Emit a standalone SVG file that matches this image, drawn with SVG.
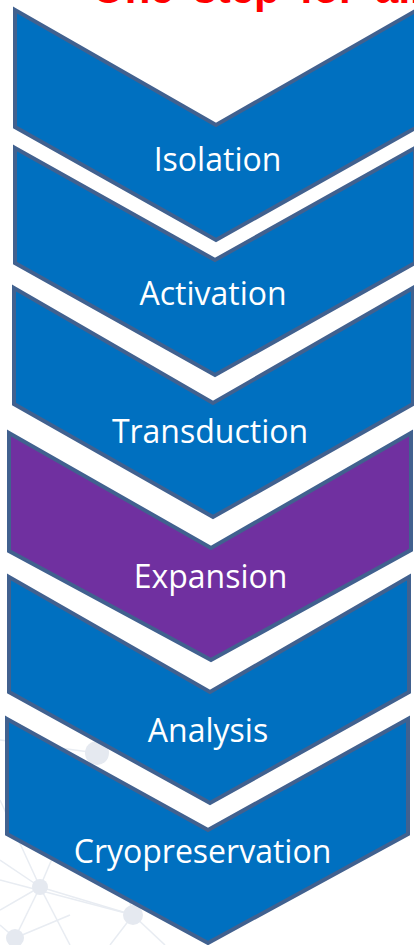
<svg xmlns="http://www.w3.org/2000/svg" width="414" height="945" viewBox="0 0 414 945">
<style>
.bgl{stroke:#E8ECF2;stroke-width:1.5;fill:none}
.bgc{fill:#E5E9F0}
.chev{stroke:#41618F;stroke-width:4;stroke-linejoin:miter}
.blue{fill:#0070C0}
.purple{fill:#7030A0}
.lbl{font-family:"Open Sans","Liberation Sans",sans-serif;font-size:32px;fill:#FFFFFF;text-anchor:middle}
.title{font-family:"Liberation Sans",Arial,sans-serif;font-size:42px;font-weight:bold;fill:#FF0000;word-spacing:8px}
</style>
<rect width="414" height="945" fill="#FFFFFF"/>
<g id="background">
<line class="bgl" x1="0" y1="740" x2="97" y2="753"/>
<line class="bgl" x1="97" y1="753" x2="40" y2="887"/>
<line class="bgl" x1="0" y1="800" x2="40" y2="887"/>
<line class="bgl" x1="0" y1="860" x2="40" y2="887"/>
<line class="bgl" x1="40" y1="887" x2="15" y2="938"/>
<line class="bgl" x1="40" y1="887" x2="133" y2="915"/>
<line class="bgl" x1="40" y1="887" x2="0" y2="910"/>
<line class="bgl" x1="40" y1="887" x2="70" y2="945"/>
<line class="bgl" x1="133" y1="915" x2="110" y2="945"/>
<line class="bgl" x1="133" y1="915" x2="165" y2="945"/>
<line class="bgl" x1="133" y1="915" x2="120" y2="860"/>
<line class="bgl" x1="15" y1="938" x2="0" y2="925"/>
<line class="bgl" x1="15" y1="938" x2="70" y2="915"/>
<line class="bgl" x1="0" y1="880" x2="133" y2="915"/>
<circle class="bgc" cx="97" cy="753" r="12"/>
<circle class="bgc" cx="40" cy="887" r="8"/>
<circle class="bgc" cx="133" cy="915" r="10"/>
<circle class="bgc" cx="15" cy="938" r="9"/>
</g>
<text class="title" x="92" y="3">One step for all</text>
<g id="isolation">
<polygon class="chev blue" points="15,10 216,125 417,10 417,127 216,240 15,127"/>
<text class="lbl" x="217.5" y="171">Isolation</text>
</g>
<g id="activation">
<polygon class="chev blue" points="15,148 215,260 415,148 415,263 215,375 15,263"/>
<text class="lbl" x="213" y="305">Activation</text>
</g>
<g id="transduction">
<polygon class="chev blue" points="14,288 213,403 413,288 413,404 213,517 14,404"/>
<text class="lbl" x="210" y="443">Transduction</text>
</g>
<g id="expansion">
<polygon class="chev purple" points="9,433 211,548 411,433 411,550 211,660 9,551"/>
<text class="lbl" x="210.5" y="588">Expansion</text>
</g>
<g id="analysis">
<polygon class="chev blue" points="9,577 210,692 409,577 409,692 210,803 9,692"/>
<text class="lbl" x="208" y="742">Analysis</text>
</g>
<g id="cryopreservation">
<polygon class="chev blue" points="7,719 208,830 408,719 408,834 208,943 7,834"/>
<text class="lbl" x="202.5" y="863">Cryopreservation</text>
</g>
<g id="connectors"></g>
</svg>
